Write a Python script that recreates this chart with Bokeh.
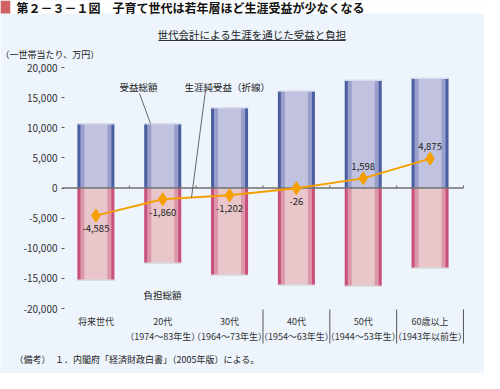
from bokeh.plotting import figure
from bokeh.models import Range1d, LinearAxis, FixedTicker, NumeralTickFormatter, ColumnDataSource, Label
from bokeh.embed import file_html
from bokeh.resources import INLINE

# ---- data ----
categories = ["将来世代", "20代\n（1974～83年生）", "30代\n（1964～73年生）",
              "40代\n（1954～63年生）", "50代\n（1944～53年生）", "60歳以上\n（1943年以前生）"]
benefit = [10650, 10650, 13300, 16100, 17900, 18200]
burden = [-15300, -12500, -14500, -16150, -16300, -13300]
net = [-4585, -1860, -1202, -26, 1598, 4875]
y_ticks = [-20000, -15000, -10000, -5000, 0, 5000, 10000, 15000, 20000]

FONT = "Noto Sans CJK JP"
BG = "#EDF4FC"
ORANGE = "#F5A000"

# pixel (reference image) -> data helpers for decorations
X0, XS = 103.4, 66.83
Y0, YS = 195.5, 0.006025
def dx(px):
    return (px - X0) / XS
def dy(py):
    return (Y0 - py) / YS

xs = list(range(len(categories)))
src = ColumnDataSource(dict(
    x=xs, benefit=benefit, burden=burden, net=net,
    lab=[f"{v:,}" for v in net],
    off=[13 if v < 0 else -12 for v in net],
))

p = figure(width=484, height=373, x_range=Range1d(dx(8), dx(492)), y_range=Range1d(dy(381), dy(8)),
           output_backend="svg", toolbar_location=None, x_axis_type=None, y_axis_type=None,
           min_border=0)
p.min_border_left = p.min_border_right = p.min_border_top = p.min_border_bottom = 0
p.outline_line_color = None
p.background_fill_color = BG
p.border_fill_color = BG
p.grid.visible = False

# header band
p.quad(left=dx(8), right=dx(18), top=dy(8), bottom=dy(21), fill_color="#CF6363", line_color=None)
p.quad(left=dx(18), right=dx(492), top=dy(8), bottom=dy(21), fill_color="white", line_color=None)

# axes
yaxis = LinearAxis(ticker=FixedTicker(ticks=y_ticks), formatter=NumeralTickFormatter(format="0,0"),
                   fixed_location=xs[0] - 0.5)
yaxis.axis_line_color = None
yaxis.major_tick_in = 2
yaxis.major_tick_out = 1
yaxis.major_tick_line_color = "#555555"
yaxis.minor_tick_line_color = None
yaxis.major_label_standoff = 4
yaxis.major_label_text_font = FONT
yaxis.major_label_text_font_size = "10px"
yaxis.major_label_text_color = "#333333"
p.add_layout(yaxis, "left")

xaxis = LinearAxis(ticker=FixedTicker(ticks=xs),
                   major_label_overrides={i: c for i, c in zip(xs, categories)},
                   fixed_location=y_ticks[0])
xaxis.axis_line_color = None
xaxis.major_tick_line_color = None
xaxis.minor_tick_line_color = None
xaxis.major_tick_in = 0
xaxis.major_tick_out = 0
xaxis.major_label_standoff = 6
xaxis.major_label_text_font = FONT
xaxis.major_label_text_font_size = "9px"
xaxis.major_label_text_color = "#333333"
p.add_layout(xaxis, "below")

# bars (layered for shading)
for w, c in [(0.554, "#4B5FA0"), (0.464, "#9A9ECC"), (0.344, "#C0C2E0")]:
    p.vbar(x="x", top="benefit", bottom=0, width=w, source=src, fill_color=c, line_color=None)
for w, c in [(0.554, "#C8507A"), (0.464, "#DC98AA"), (0.344, "#E8C6CA")]:
    p.vbar(x="x", top=0, bottom="burden", width=w, source=src, fill_color=c, line_color=None)
# light top / bottom edges
p.vbar(x="x", top="benefit", bottom="benefit", width=0.554, source=src, fill_color=None,
       line_color="#D8DCEC", line_width=1.5)
p.vbar(x="x", top="burden", bottom="burden", width=0.554, source=src, fill_color=None,
       line_color="#D8E0E4", line_width=1.5)

# zero line and boundary marks
bounds = [x + 0.5 for x in xs]
p.segment(x0=xs[0] - 0.5, y0=0, x1=xs[-1] + 0.5, y1=0, line_color="#707070", line_width=1.5)
p.segment(x0=bounds, y0=[0] * len(bounds), x1=bounds, y1=[450] * len(bounds),
          line_color="#707070", line_width=1)
sep = bounds[2:]
p.segment(x0=sep, y0=[dy(317)] * len(sep), x1=sep, y1=[dy(351)] * len(sep),
          line_color="#555555", line_width=1)

# net benefit line
p.line(x="x", y="net", source=src, line_color=ORANGE, line_width=2)
p.scatter(x="x", y="net", source=src, marker="diamond", size=13, fill_color=ORANGE, line_color=ORANGE)
p.text(x="x", y="net", text="lab", y_offset="off", source=src, text_align="center",
       text_baseline="middle", text_font_size="9.5px", text_color="#222222",
       text_font={"value": FONT})

# leader lines
p.segment(x0=dx(147), y0=dy(101), x1=dx(158), y1=dy(131), line_color="#444444", line_width=0.8)
p.segment(x0=dx(213), y0=dy(98), x1=dx(199), y1=dy(205), line_color="#444444", line_width=0.8)
# subtitle underline
p.segment(x0=dx(166), y0=dy(48), x1=dx(353), y1=dy(48), line_color="#333333", line_width=1)

def lab(text, x, y, size, align="center", bold=False, color="#222222"):
    p.add_layout(Label(x=x, y=y, text=text, text_font=FONT, text_font_size=size,
                       text_align=align, text_baseline="middle", text_color=color,
                       text_font_style="bold" if bold else "normal"))

lab("第２－３－１図　子育て世代は若年層ほど生涯受益が少なくなる", dx(24), dy(14.5), "12px", "left", True, "#111111")
lab("世代会計による生涯を通じた受益と負担", dx(259.5), dy(42), "10.5px")
lab("（一世帯当たり、万円）", dx(8), dy(62), "9px", "left")
lab("受益総額", dx(146), dy(94), "9.5px")
lab("生涯純受益（折線）", dx(192), dy(94), "9.5px", "left")
lab("負担総額", dx(170), dy(302), "9.5px")
lab("（備考）　１．内閣府「経済財政白書」（2005年版）による。", dx(22), dy(367), "9px", "left")

open("out.html", "w").write(file_html(p, INLINE))
